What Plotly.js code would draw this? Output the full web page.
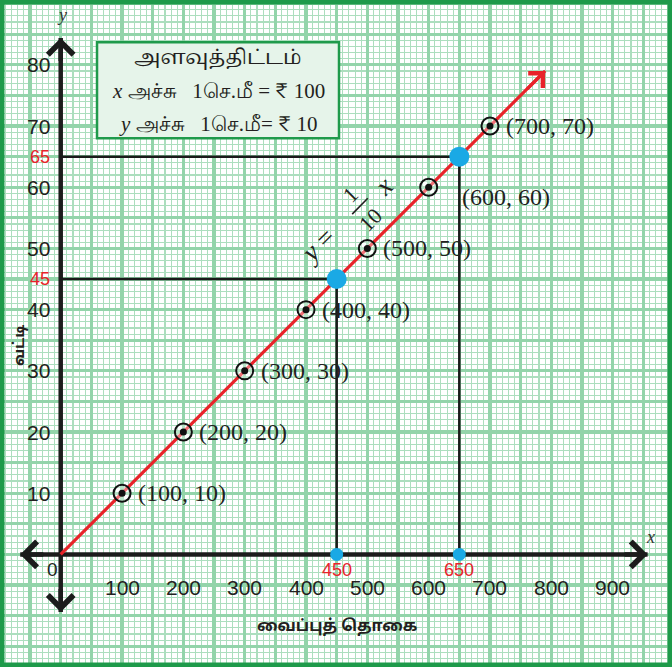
<!DOCTYPE html>
<html>
<head>
<meta charset="utf-8">
<script src="https://cdn.plot.ly/plotly-3.0.1.min.js"></script>
<style>
html,body{margin:0;padding:0;background:#fff;}
#chart{width:672px;height:667px;}
</style>
</head>
<body>
<div id="chart"></div>
<script>
// ---- data ----
const xValues = [100, 200, 300, 400, 500, 600, 700];
const yValues = [10, 20, 30, 40, 50, 60, 70];
const pointLabels = ['(100, 10)', '(200, 20)', '(300, 30)', '(400, 40)', '(500, 50)', '(600, 60)', '(700, 70)'];
const xTickVals = [100, 200, 300, 400, 500, 600, 700, 800, 900];
const xTickText = ['100', '200', '300', '400', '500', '600', '700', '800', '900'];
const yTickVals = [10, 20, 30, 40, 50, 60, 70, 80];
const yTickText = ['10', '20', '30', '40', '50', '60', '70', '80'];
const highlightX = [450, 650];
const highlightY = [45, 65];
const lineX = [0, 790];
const lineY = [0, 79];
const xAxisEnds = [-66, 957];
const yAxisEnds = [-9.4, 84.4];
const xTitle = 'வைப்புத் தொகை';
const yTitle = 'வட்டி';
const scaleTitle = 'அளவுத்திட்டம்';
const scaleX = '<i>x</i> அச்சு\u00a0\u00a0 1செ.மீ = ₹ 100';
const scaleY = '<i>y</i> அச்சு\u00a0\u00a0 1செ.மீ= ₹ 10';

// ---- styles ----
const AXIS_COL = '#1c1c1c';
const RED = '#e8232a';
const BLUE = '#1aa9e5';
const GREEN_MAJOR = '#93d4aa';
const GREEN_MINOR = '#acdebe';
const SANS = 'Liberation Sans, Arial, sans-serif';
const SERIF = 'Liberation Serif, Times New Roman, serif';
const TAMIL = 'Noto Sans Tamil, Noto Serif Tamil, Lohit Tamil, Liberation Sans, sans-serif';
const TAMIL_SERIF = 'Noto Serif Tamil, Noto Sans Tamil, Liberation Serif, serif';

const traces = [];

// axis lines
traces.push({x: xAxisEnds, y: [0, 0], mode: 'lines', line: {color: AXIS_COL, width: 4.5}, hoverinfo: 'skip'});
traces.push({x: [0, 0], y: yAxisEnds, mode: 'lines', line: {color: AXIS_COL, width: 4.5}, hoverinfo: 'skip'});

// guide lines
highlightX.forEach((hx, i) => {
  traces.push({x: [0, hx, hx], y: [highlightY[i], highlightY[i], 0], mode: 'lines',
    line: {color: '#1a1a1a', width: 2.5}, hoverinfo: 'skip'});
});

// red line
traces.push({x: lineX, y: lineY, mode: 'lines', line: {color: RED, width: 3.2}, hoverinfo: 'skip'});

// plotted points: ring + dot
traces.push({x: xValues, y: yValues, mode: 'markers',
  marker: {symbol: 'circle', size: 17, color: 'rgba(255,255,255,0.35)', line: {color: '#111', width: 2}}, hoverinfo: 'skip'});
traces.push({x: xValues, y: yValues, mode: 'markers',
  marker: {symbol: 'circle', size: 7, color: '#111'}, hoverinfo: 'skip'});

// highlight points
traces.push({x: highlightX, y: highlightY, mode: 'markers', marker: {size: 20, color: BLUE}, hoverinfo: 'skip'});
traces.push({x: highlightX, y: highlightX.map(() => 0), mode: 'markers', marker: {size: 13, color: BLUE}, hoverinfo: 'skip'});

const annotations = [];

// arrow heads
const head = (x, y, ax, ay, color, w, size) => ({x, y, ax, ay, xref: 'x', yref: 'y', axref: 'x', ayref: 'y',
  text: '', showarrow: true, arrowhead: 4, arrowsize: size, arrowwidth: w, arrowcolor: color, standoff: 0});
annotations.push(head(xAxisEnds[1], 0, xAxisEnds[1] - 40, 0, AXIS_COL, 4.5, 1.1));
annotations.push(head(xAxisEnds[0], 0, xAxisEnds[0] + 40, 0, AXIS_COL, 4.5, 1.1));
annotations.push(head(0, yAxisEnds[1], 0, yAxisEnds[1] - 4, AXIS_COL, 4.5, 1.1));
annotations.push(head(0, yAxisEnds[0], 0, yAxisEnds[0] + 4, AXIS_COL, 4.5, 1.1));
annotations.push(head(lineX[1], lineY[1], lineX[1] - 0.04 * (lineX[1] - lineX[0]), lineY[1] - 0.04 * (lineY[1] - lineY[0]), RED, 3.2, 1.25));

// tick labels
xTickVals.forEach((v, i) => annotations.push({x: v, y: -5.4, xref: 'x', yref: 'y', text: xTickText[i], showarrow: false,
  font: {family: SANS, size: 21, color: '#231f20'}, xanchor: 'center', yanchor: 'middle'}));
yTickVals.forEach((v, i) => annotations.push({x: -14.2, y: v, xref: 'x', yref: 'y', text: yTickText[i], showarrow: false,
  font: {family: SANS, size: 21, color: '#231f20'}, xanchor: 'right', yanchor: 'middle'}));
annotations.push({x: -12.6, y: -2.4, xref: 'x', yref: 'y', text: '0', showarrow: false,
  font: {family: SANS, size: 19, color: '#231f20'}, xanchor: 'center', yanchor: 'middle'});

// highlighted values
highlightX.forEach(v => annotations.push({x: v, y: -2.6, xref: 'x', yref: 'y', text: String(v), showarrow: false,
  font: {family: SANS, size: 18, color: RED}, xanchor: 'center', yanchor: 'middle'}));
highlightY.forEach(v => annotations.push({x: -14.2, y: v, xref: 'x', yref: 'y', text: String(v), showarrow: false,
  font: {family: SANS, size: 18, color: RED}, xanchor: 'right', yanchor: 'middle'}));

// point labels
pointLabels.forEach((t, i) => {
  const below = i === 5;
  annotations.push({x: xValues[i], y: yValues[i], xref: 'x', yref: 'y', text: t, showarrow: false,
    font: {family: SERIF, size: 24, color: '#231f20'}, xanchor: 'left', yanchor: 'middle',
    xshift: below ? 31 : 14, yshift: below ? -10 : 0});
});

// axis letters
annotations.push({x: 1.5, y: 88.2, xref: 'x', yref: 'y', text: '<i>y</i>', showarrow: false,
  font: {family: SERIF, size: 18, color: '#333'}});
annotations.push({x: 961, y: 2.8, xref: 'x', yref: 'y', text: '<i>x</i>', showarrow: false,
  font: {family: SERIF, size: 18, color: '#333'}});

// axis titles
annotations.push({x: 450, y: -11.9, xref: 'x', yref: 'y', text: '<b>' + xTitle + '</b>', showarrow: false,
  font: {family: TAMIL, size: 16, color: '#231f20'}});
annotations.push({x: -66.4, y: 34.2, xref: 'x', yref: 'y', text: '<b>' + yTitle + '</b>', showarrow: false,
  textangle: -90, font: {family: TAMIL, size: 15, color: '#231f20'}});

// scale box text
annotations.push({x: 256.7, y: 81.1, xref: 'x', yref: 'y', text: scaleTitle, showarrow: false,
  font: {family: TAMIL_SERIF, size: 20, color: '#231f20'}});
annotations.push({x: 256.7, y: 75.7, xref: 'x', yref: 'y', text: scaleX, showarrow: false,
  font: {family: SERIF, size: 21, color: '#231f20'}});
annotations.push({x: 256.7, y: 70.4, xref: 'x', yref: 'y', text: scaleY, showarrow: false,
  font: {family: SERIF, size: 21, color: '#231f20'}});

// equation y = 1/10 x
const eq = (x, y, t, s) => ({x, y, xref: 'x', yref: 'y', text: t, showarrow: false, textangle: -45,
  font: {family: SERIF, size: s, color: '#231f20'}});
annotations.push(eq(419.5, 50.5, '<i>y</i> =', 27));
annotations.push(eq(472.5, 58.8, '1', 22));
annotations.push(eq(505, 54.8, '10', 22));
annotations.push(eq(527, 60.2, '<i>x</i>', 27));

const shapes = [
  {type: 'rect', xref: 'x', yref: 'y', x0: 59.2, x1: 453.8, y0: 68.0, y1: 83.7,
    fillcolor: '#e6f4ea', line: {color: '#1f9a4b', width: 2.5}, layer: 'above'},
  {type: 'line', xref: 'x', yref: 'y', x0: 475.3, y0: 55.6, x1: 500.7, y1: 58.2,
    line: {color: '#231f20', width: 1.6}, layer: 'above'},
  {type: 'rect', xref: 'paper', yref: 'paper', x0: 0, x1: 1, y0: 0, y1: 1,
    line: {color: '#1e9a4a', width: 9}, fillcolor: 'rgba(0,0,0,0)', layer: 'above'}
];

const layout = {
  width: 672, height: 667,
  margin: {l: 0, r: 0, t: 0, b: 0, pad: 0},
  paper_bgcolor: '#ffffff', plot_bgcolor: '#ffffff',
  showlegend: false,
  xaxis: {range: [-99, 996.8], tick0: 0, dtick: 50, showgrid: true, gridcolor: GREEN_MAJOR, gridwidth: 3.2,
    minor: {tick0: 0, dtick: 10, showgrid: true, gridcolor: GREEN_MINOR, gridwidth: 1.1},
    showticklabels: false, ticks: '', zeroline: false, showline: false, fixedrange: true},
  yaxis: {range: [-18.4, 90.6], tick0: 0, dtick: 5, showgrid: true, gridcolor: GREEN_MAJOR, gridwidth: 3.2,
    minor: {tick0: 0, dtick: 1, showgrid: true, gridcolor: GREEN_MINOR, gridwidth: 1.1},
    showticklabels: false, ticks: '', zeroline: false, showline: false, fixedrange: true},
  annotations, shapes
};

Plotly.newPlot('chart', traces, layout, {staticPlot: true, displayModeBar: false});
</script>
</body>
</html>
